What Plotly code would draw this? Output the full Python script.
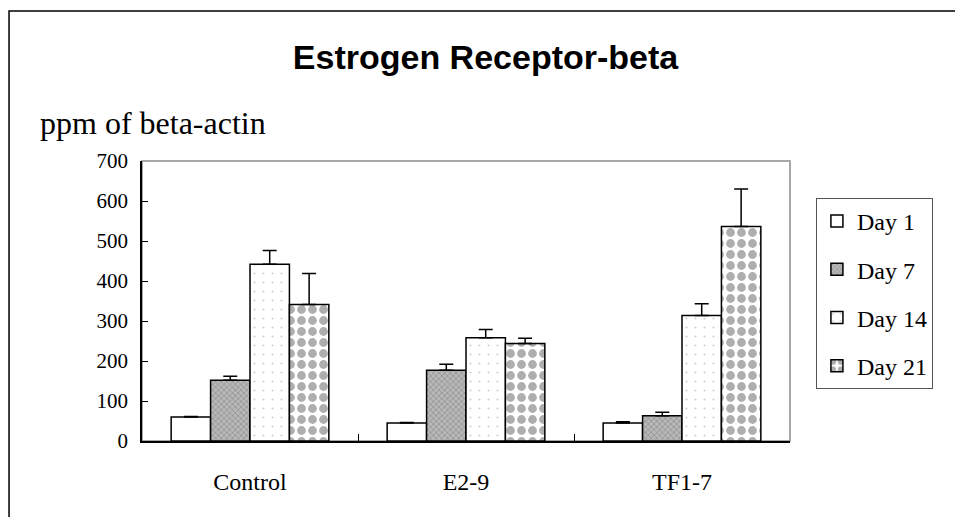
import plotly.graph_objects as go

groups = ["Control", "E2-9", "TF1-7"]
series = ["Day 1", "Day 7", "Day 14", "Day 21"]

day1 = [60, 45, 45]
day7 = [152, 177, 63]
day14 = [442, 258, 314]
day21 = [341, 244, 536]

day1_err = [1, 1, 3]
day7_err = [10, 15, 9]
day14_err = [34, 21, 29]
day21_err = [78, 13, 94]

values = [day1, day7, day14, day21]
errors = [day1_err, day7_err, day14_err, day21_err]

serif = "Liberation Serif, Times New Roman, serif"

# bar fill styles, roughly matching the old Excel textures
patterns = [
    dict(color="white", pattern=dict(shape="")),
    dict(color="#b8b8b8", pattern=dict(shape="x", fgcolor="#6a6a6a", size=4, solidity=0.35)),
    dict(color="white", pattern=dict(shape=".", fgcolor="#9a9a9a", size=9, solidity=0.04)),
    dict(color="white", pattern=dict(shape=".", fgcolor="#5e5e5e", size=11, solidity=0.5)),
]

fig = go.Figure()
for i, name in enumerate(series):
    fig.add_trace(go.Bar(
        x=groups, y=values[i], name=name, legendgroup=name,
        marker=dict(color=patterns[i]["color"], pattern=patterns[i]["pattern"],
                    line=dict(color="black", width=1.5)),
        error_y=dict(type="data", symmetric=False, array=errors[i],
                     arrayminus=[0] * len(groups), color="black",
                     thickness=1.5, width=7),
    ))

# page body has an 8px margin, so the figure is a bit smaller than the window
fig.update_layout(
    width=955, height=509,
    margin=dict(l=134, r=173, t=153, b=76),
    paper_bgcolor="white", plot_bgcolor="white",
    barmode="group", bargap=0.27, bargroupgap=0,
    font=dict(family=serif, size=21, color="black"),
    title=dict(text="<b>Estrogen Receptor-beta</b>", x=0.5, xanchor="center",
               y=0.904, yanchor="middle",
               font=dict(family="Liberation Sans, Arial, sans-serif", size=34, color="black")),
    legend=dict(x=1.04, y=0.868, xanchor="left", yanchor="top",
                bordercolor="#555", borderwidth=1, tracegroupgap=14,
                font=dict(family=serif, size=24), itemwidth=30),
    showlegend=True,
)

fig.update_xaxes(showline=True, linecolor="black", linewidth=1.5,
                 ticks="inside", tickson="boundaries", ticklen=7, tickcolor="black",
                 ticklabelstandoff=18, tickfont=dict(size=24), showgrid=False)
fig.update_yaxes(range=[0, 700], dtick=100, showline=True, linecolor="black", linewidth=1.5,
                 ticks="inside", ticklen=6, tickcolor="black", ticklabelstandoff=8,
                 tickfont=dict(size=21), showgrid=False, zeroline=False)

# gray frame around the plot area; outer chart frame runs off the right and bottom edges
fig.add_shape(type="rect", xref="paper", yref="paper", x0=0, y0=0, x1=1, y1=1,
              line=dict(color="#8c8c8c", width=1.5), layer="below")
fig.add_shape(type="rect", xref="paper", yref="paper",
              x0=-0.2052, y0=-0.29, x1=1.275, y1=1.536,
              line=dict(color="black", width=1.5))

fig.add_annotation(text="ppm of beta-actin", xref="paper", yref="paper",
                   x=-0.161, y=1.135, xanchor="left", yanchor="middle",
                   showarrow=False, font=dict(family=serif, size=32))

fig.write_html("out.html")
